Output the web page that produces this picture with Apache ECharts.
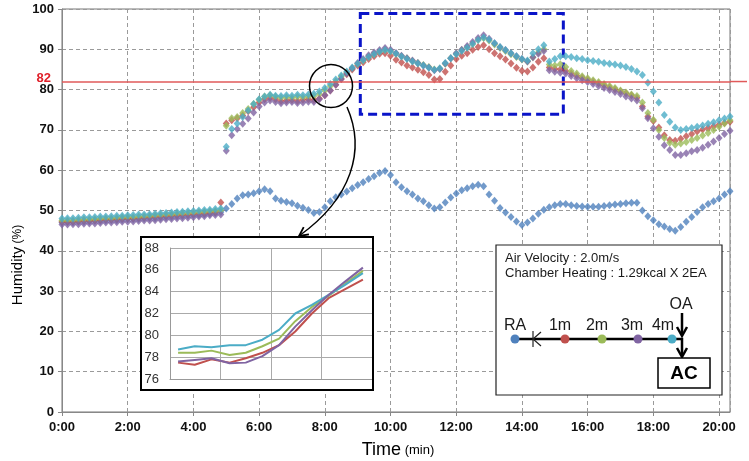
<!DOCTYPE html>
<html><head><meta charset="utf-8">
<script src="https://cdn.jsdelivr.net/npm/echarts/dist/echarts.min.js"></script>
<style>html,body{margin:0;padding:0;background:#fff}#c{width:749px;height:461px}</style>
</head><body><div id="c"></div>
<script>
// ---- data: one sample every 10 s (1/6 min) from 0:00 ----
const sampleStepMin = 1 / 6;
const seriesNames = ['RA', '1m', '2m', '3m', '4m'];
const seriesColors = ['#4F81BD', '#C0504D', '#9BBB59', '#8064A2', '#4BACC6'];

const humidityRA = [47.0,47.1,47.1,47.2,47.2,47.3,47.4,47.4,47.5,47.6,47.6,47.7,47.8,47.8,47.9,48.0,48.1,48.1,48.2,48.3,48.4,48.5,48.6,48.7,48.8,48.9,49.0,49.2,49.4,49.6,
50.5,51.6,53.0,53.8,54.0,54.3,54.8,55.3,54.8,53.0,
52.4,52.1,51.8,51.2,50.7,50.1,49.4,49.6,50.8,52.3,
53.3,54.0,54.7,55.5,56.3,57.0,57.8,58.5,59.3,59.8,
58.8,57.0,55.8,54.8,54.0,53.0,52.3,51.3,50.5,50.8,
52.0,53.2,54.2,55.0,55.5,56.0,56.4,56.0,54.0,52.4,
50.6,49.5,48.4,47.3,46.4,47.0,48.0,49.2,50.2,50.8,
51.3,51.6,51.6,51.3,51.1,51.0,50.9,50.9,50.9,51.1,
51.3,51.5,51.6,51.8,51.9,51.9,50.0,48.6,47.6,46.6,
46.0,45.4,45.0,45.9,47.2,48.4,49.6,50.8,51.6,52.3,
53.0,54.0,54.8];

const humidity1m = [47.2,47.3,47.3,47.4,47.5,47.5,47.6,47.7,47.8,47.8,47.9,48.0,48.1,48.1,48.2,48.3,48.4,48.5,48.6,48.7,48.8,48.9,49.0,49.1,49.2,49.3,49.4,49.5,49.6,52.0,
71.6,72.4,72.9,73.6,74.6,75.6,76.8,77.6,77.9,77.6,
77.2,77.3,77.4,77.2,77.5,77.6,77.4,77.8,78.6,79.8,
81.2,82.6,83.8,85.0,86.0,86.8,87.6,88.3,88.9,89.0,
88.4,87.4,86.7,86.0,85.5,84.9,84.3,83.6,82.5,82.6,
84.4,86.0,87.6,88.4,89.0,89.9,90.6,91.0,90.0,89.0,
88.3,87.5,86.5,85.4,84.7,84.5,85.5,86.9,87.8,85.5,
85.2,85.0,84.6,84.0,83.5,83.0,82.5,82.0,81.6,81.1,
80.6,80.1,79.6,79.1,78.6,78.0,75.8,73.3,72.2,70.6,
68.7,67.5,67.3,67.8,68.4,69.0,69.6,70.1,70.5,70.9,
71.3,71.7,72.0];

const humidity2m = [47.5,47.6,47.6,47.7,47.8,47.8,47.9,48.0,48.1,48.1,48.2,48.3,48.4,48.4,48.5,48.6,48.7,48.8,48.9,49.0,49.1,49.2,49.3,49.4,49.5,49.6,49.7,49.8,49.9,50.1,
71.0,72.9,73.2,74.2,75.2,76.4,77.5,78.3,78.6,78.2,
78.0,78.1,78.0,78.2,78.1,78.3,78.4,78.9,79.8,80.9,
82.0,83.2,84.2,85.3,86.4,87.3,88.2,88.9,89.5,89.9,
89.6,88.9,88.3,87.8,87.1,86.6,86.1,85.6,85.0,85.2,
86.4,87.8,88.9,89.8,90.5,91.4,92.4,92.8,92.2,91.2,
90.3,89.6,88.8,88.1,87.5,87.0,88.0,89.2,90.0,86.2,
86.0,86.3,85.6,84.6,84.0,83.3,82.8,82.3,81.9,81.4,
80.9,80.4,79.8,79.3,78.8,78.4,76.8,74.2,72.5,70.0,
68.0,66.8,66.3,66.6,67.0,67.5,68.0,68.6,69.2,70.0,
70.8,71.6,72.4];

const humidity3m = [46.5,46.5,46.6,46.6,46.7,46.8,46.8,46.9,47.0,47.0,47.1,47.2,47.2,47.3,47.4,47.5,47.5,47.6,47.7,47.8,47.9,48.0,48.1,48.2,48.3,48.5,48.6,48.8,48.9,49.0,
64.8,68.7,70.2,71.5,72.8,74.3,75.8,76.8,77.3,76.9,
76.6,76.8,76.9,76.7,76.8,77.0,76.9,77.6,78.6,79.8,
81.2,82.6,84.0,85.3,86.6,87.6,88.5,89.2,89.8,90.3,
89.9,89.1,88.4,87.8,87.2,86.6,86.0,85.5,84.8,85.1,
86.5,87.8,89.0,89.9,90.8,91.8,92.8,93.5,92.6,91.5,
90.5,89.8,89.0,88.3,87.6,87.0,88.0,88.9,89.6,84.8,
84.4,84.2,84.0,83.4,82.8,82.3,81.9,81.4,80.9,80.4,
79.9,79.4,78.9,78.3,77.8,77.3,75.4,72.9,70.4,68.3,
66.2,65.0,63.8,63.8,64.2,64.7,65.0,65.6,66.3,67.1,
68.0,69.0,69.8];

const humidity4m = [48.0,48.1,48.1,48.2,48.3,48.3,48.4,48.5,48.5,48.6,48.7,48.7,48.8,48.9,49.0,49.0,49.1,49.2,49.3,49.4,49.5,49.6,49.7,49.8,49.9,50.0,50.1,50.2,50.4,50.5,
65.8,70.2,71.6,73.2,74.8,76.4,77.6,78.3,78.7,78.5,
78.4,78.6,78.5,78.7,78.6,78.8,79.0,79.5,80.4,81.4,
82.5,83.5,84.5,85.5,86.4,87.3,88.1,88.8,89.4,89.8,
89.5,88.9,88.2,87.6,87.0,86.5,86.0,85.4,84.9,85.3,
86.6,87.8,88.8,89.6,90.4,91.3,92.3,92.9,92.4,91.5,
90.6,89.8,89.0,88.3,87.6,87.2,89.0,90.0,91.0,87.0,
87.6,88.3,88.3,88.1,87.8,87.6,87.3,87.1,86.9,86.6,
86.4,86.2,86.0,85.6,85.1,84.5,83.6,81.7,79.5,76.8,
73.7,72.0,70.6,70.0,70.2,70.5,70.8,71.1,71.5,71.9,
72.4,72.8,73.3];

const thresholdHumidity = 82;

// inset (zoomed view of the 82 % crossing)
const insetTime = [0.16,0.49,0.82,1.18,1.5,1.83,2.16,2.48,2.81,3.14,3.46,3.82];
const inset4m = [78.7,79.0,78.9,79.1,79.1,79.6,80.5,82.0,82.8,83.7,84.6,85.7];
const inset2m = [78.4,78.4,78.6,78.2,78.4,79.0,79.7,81.3,82.6,83.6,84.7,85.9];
const inset3m = [77.6,77.75,77.9,77.45,77.5,78.1,79.1,80.8,82.3,83.7,84.9,86.2];
const inset1m = [77.5,77.3,77.8,77.5,77.9,78.4,79.1,80.35,82.0,83.4,84.2,85.1];

// ---- chart ----
const FONT = '"Liberation Sans", Arial, sans-serif';
const mainData = [humidityRA, humidity1m, humidity2m, humidity3m, humidity4m];
const toPts = arr => arr.map((v, i) => [i * sampleStepMin, v]);
const xMax = (humidityRA.length - 1) * sampleStepMin;

const series = mainData.map((arr, k) => ({
  name: seriesNames[k], type: 'scatter', xAxisIndex: 0, yAxisIndex: 0,
  data: toPts(arr), symbol: 'diamond', symbolSize: [7, 8],
  itemStyle: { color: seriesColors[k] }, z: 2, silent: true, animation: false
}));
series[0].markLine = {
  silent: true, symbol: 'none', label: { show: false },
  lineStyle: { color: '#E05A5A', width: 1.5, type: 'solid' },
  data: [{ yAxis: thresholdHumidity }], animation: false
};
series[0].markArea = {
  silent: true, label: { show: false },
  itemStyle: { color: 'rgba(0,0,0,0)', borderColor: '#0A14C8', borderWidth: 3, borderType: [9, 5] },
  data: [[{ coord: [9.08, 98.9] }, { coord: [15.26, 73.9] }]]
};

const insetSets = [[inset1m, 1], [inset2m, 2], [inset4m, 4], [inset3m, 3]];
insetSets.forEach(([arr, k]) => {
  series.push({
    type: 'line', xAxisIndex: 1, yAxisIndex: 1, showSymbol: false, silent: true,
    data: arr.map((v, i) => [insetTime[i], v]),
    lineStyle: { color: seriesColors[k], width: 2 }, itemStyle: { color: seriesColors[k] },
    z: 12, animation: false
  });
});
series[series.length - 1].markLine = {
  silent: true, symbol: 'none', label: { show: false },
  lineStyle: { color: '#E0303A', width: 1.2, type: 'solid' },
  data: [{ yAxis: thresholdHumidity }], animation: false
};

const chart = echarts.init(document.getElementById('c'), null, { renderer: 'canvas' });

function arrowHead(x, y, dx, dy, len, wing) {
  const L = Math.hypot(dx, dy), ux = dx / L, uy = dy / L, nx = -uy, ny = ux;
  const bx = x - ux * len, by = y - uy * len;
  return [[bx + nx * wing, by + ny * wing], [x, y], [bx - nx * wing, by - ny * wing]];
}

const txt = (t, x, y, extra) => Object.assign({ type: 'text', x, y, z: 21,
  style: Object.assign({ text: t, font: '13px ' + FONT, fill: '#1a1a1a', verticalAlign: 'middle' }, extra || {}) });

const graphics = [
  // inset frame
  { type: 'rect', shape: { x: 141, y: 237, width: 232, height: 153 }, style: { fill: '#fff', stroke: null }, z: 5 },
  { type: 'rect', shape: { x: 141, y: 237, width: 232, height: 153 }, style: { fill: null, stroke: '#000', lineWidth: 2 }, z: 15 },
  // circle + curved arrow
  { type: 'circle', shape: { cx: 331, cy: 86, r: 21.5 }, style: { fill: null, stroke: '#000', lineWidth: 1.5 }, z: 16 },
  { type: 'bezierCurve', shape: { x1: 347, y1: 107, cpx1: 366, cpy1: 150, cpx2: 352, cpy2: 198, x2: 299, y2: 236 }, style: { fill: null, stroke: '#000', lineWidth: 1.5 }, z: 16 },
  { type: 'polyline', shape: { points: arrowHead(299, 236, -53, 38, 9, 4.5) }, style: { fill: null, stroke: '#000', lineWidth: 1.8 }, z: 16 },
  // legend box
  { type: 'rect', shape: { x: 496, y: 245, width: 226, height: 150 }, style: { fill: '#fff', stroke: '#222', lineWidth: 1.2 }, z: 20 },
  txt('Air Velocity : 2.0m/s', 505, 258),
  txt('Chamber Heating : 1.29kcal X 2EA', 505, 273),
  { type: 'polyline', shape: { points: [[515, 339], [682, 339], [682, 355]] }, style: { fill: null, stroke: '#000', lineWidth: 2.5 }, z: 21 },
  { type: 'polyline', shape: { points: arrowHead(682, 357, 0, 1, 9, 5) }, style: { fill: null, stroke: '#000', lineWidth: 2.5 }, z: 21 },
  { type: 'line', shape: { x1: 682, y1: 313, x2: 682, y2: 335 }, style: { stroke: '#000', lineWidth: 2.5 }, z: 21 },
  { type: 'polyline', shape: { points: arrowHead(682, 336, 0, 1, 9, 5) }, style: { fill: null, stroke: '#000', lineWidth: 2.5 }, z: 21 },
  { type: 'line', shape: { x1: 533, y1: 331, x2: 533, y2: 347 }, style: { stroke: '#222', lineWidth: 1.2 }, z: 22 },
  { type: 'polyline', shape: { points: [[541, 332], [533, 339], [541, 346]] }, style: { fill: null, stroke: '#222', lineWidth: 1.2 }, z: 22 },
  { type: 'rect', shape: { x: 658, y: 358, width: 52, height: 30 }, style: { fill: '#fff', stroke: '#000', lineWidth: 1.5 }, z: 21 },
  txt('AC', 684, 374, { font: 'bold 19px ' + FONT, fill: '#000', align: 'center' }),
  txt('OA', 681, 305, { font: '16px ' + FONT, align: 'center' }),
  txt('RA', 515, 326, { font: '16px ' + FONT, align: 'center' }),
  txt('1m', 560, 326, { font: '16px ' + FONT, align: 'center' }),
  txt('2m', 597, 326, { font: '16px ' + FONT, align: 'center' }),
  txt('3m', 632, 326, { font: '16px ' + FONT, align: 'center' }),
  txt('4m', 663, 326, { font: '16px ' + FONT, align: 'center' }),
];
[515, 565, 602, 638, 672].forEach((cx, k) => {
  graphics.push({ type: 'circle', shape: { cx, cy: 339, r: 4.5 }, style: { fill: seriesColors[k] }, z: 23 });
});
// axis titles and 82 label
graphics.push(
  { type: 'text', x: 398, y: 450, z: 5, style: { text: '{a|Time}{b| (min)}', align: 'center', verticalAlign: 'middle',
      rich: { a: { fontSize: 18, fontFamily: FONT, fill: '#000' }, b: { fontSize: 13, fontFamily: FONT, fill: '#000' } } } },
  { type: 'text', x: 18, y: 265, rotation: Math.PI / 2, z: 5, style: { text: '{a|Humidity}{b| (%)}', align: 'center', verticalAlign: 'middle',
      rich: { a: { fontSize: 15, fontFamily: FONT, fill: '#000' }, b: { fontSize: 12, fontFamily: FONT, fill: '#000' } } } },
  { type: 'text', x: 51, y: 78, z: 5, style: { text: String(thresholdHumidity), font: 'bold 13px ' + FONT, fill: '#E0202A', align: 'right', verticalAlign: 'middle' } }
);

chart.setOption({
  animation: false,
  backgroundColor: '#fff',
  textStyle: { fontFamily: FONT },
  grid: [
    { left: 62, top: 9, right: 19, bottom: 49, show: true, borderColor: '#777', borderWidth: 1 },
    { left: 170, top: 248, width: 202, height: 131 }
  ],
  xAxis: [
    { type: 'value', gridIndex: 0, min: 0, max: xMax, interval: 2,
      axisLine: { show: true, lineStyle: { color: '#888' } },
      axisTick: { show: true, length: 4, lineStyle: { color: '#888' } },
      axisLabel: { fontSize: 13, fontWeight: 'bold', color: '#111', margin: 9, showMaxLabel: false,
        formatter: v => (Math.abs(v - Math.round(v)) < 1e-6 ? Math.round(v) + ':00' : '') },
      splitLine: { show: true, lineStyle: { color: '#9a9a9a', type: [4, 3] } } },
    { type: 'value', gridIndex: 1, min: 0, max: 4, interval: 1, z: 10,
      axisLine: { show: true, lineStyle: { color: '#999' } }, axisTick: { show: false }, axisLabel: { show: false },
      splitLine: { show: true, lineStyle: { color: '#aaa', type: 'solid' } } }
  ],
  yAxis: [
    { type: 'value', gridIndex: 0, min: 0, max: 100, interval: 10,
      axisLine: { show: true, lineStyle: { color: '#888' } },
      axisTick: { show: true, length: 4, lineStyle: { color: '#888' } },
      axisLabel: { fontSize: 13, fontWeight: 'bold', color: '#111', margin: 8 },
      splitLine: { show: true, lineStyle: { color: '#9a9a9a', type: [4, 3] } } },
    { type: 'value', gridIndex: 1, min: 76, max: 88, interval: 2, z: 10,
      axisLine: { show: true, lineStyle: { color: '#999' } }, axisTick: { show: false },
      axisLabel: { fontSize: 13, color: '#333', margin: 11 },
      splitLine: { show: true, lineStyle: { color: '#aaa', type: 'solid' } } }
  ],
  series,
  graphic: { elements: graphics }
});

// extend the 82 % line slightly beyond the plot's right edge
const y82 = chart.convertToPixel({ yAxisIndex: 0 }, thresholdHumidity);
graphics.push({ type: 'line', shape: { x1: 730, y1: y82, x2: 747, y2: y82 }, style: { stroke: '#E05A5A', lineWidth: 1.5 }, z: 3 });
chart.setOption({ graphic: { elements: graphics } });
</script></body></html>
